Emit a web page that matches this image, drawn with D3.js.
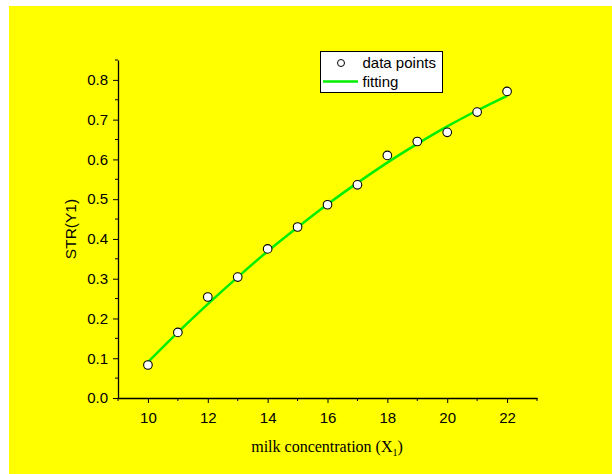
<!DOCTYPE html>
<html>
<head>
<meta charset="utf-8">
<script src="https://cdn.jsdelivr.net/npm/d3@7"></script>
<style>
  html, body { margin: 0; padding: 0; background: #ffffff; }
  svg { display: block; }
</style>
</head>
<body>
<svg id="chart" width="612" height="474"></svg>
<script>
// Measured data points (STR vs. milk concentration)
const xValues = [10, 11, 12, 13, 14, 15, 16, 17, 18, 19, 20, 21, 22];
const strValues = [0.083, 0.165, 0.254, 0.304, 0.375, 0.430, 0.486, 0.536, 0.610, 0.645, 0.668, 0.719, 0.771];
// Fitted curve evaluated at each concentration
const fitValues = [0.090, 0.165, 0.236, 0.304, 0.369, 0.429, 0.487, 0.541, 0.592, 0.639, 0.683, 0.723, 0.760];

const xTicks = [10, 12, 14, 16, 18, 20, 22];
const yTicks = [0.0, 0.1, 0.2, 0.3, 0.4, 0.5, 0.6, 0.7, 0.8];
const legendLabels = ["data points", "fitting"];

const svg = d3.select("#chart");

// page background
svg.append("rect")
  .attr("x", 9).attr("y", 6)
  .attr("width", 603).attr("height", 468)
  .attr("fill", "#ffff00");

const x = d3.scaleLinear().domain([9, 23]).range([118, 537]);
const y = d3.scaleLinear().domain([0, 0.85]).range([398, 60]);

const sans = "'Liberation Sans', Arial, sans-serif";
const serif = "'Liberation Serif', 'Times New Roman', serif";

// minor ticks
const xMinor = d3.range(9, 23.01, 1).filter(v => !xTicks.includes(v));
const yMinor = d3.range(0.05, 0.851, 0.1);

svg.append("g").selectAll("line").data(xMinor).join("line")
  .attr("x1", d => x(d)).attr("x2", d => x(d))
  .attr("y1", 398).attr("y2", 401)
  .attr("stroke", "#000").attr("stroke-width", 1);
svg.append("g").selectAll("line").data(yMinor).join("line")
  .attr("x1", 115).attr("x2", 118)
  .attr("y1", d => y(d)).attr("y2", d => y(d))
  .attr("stroke", "#000").attr("stroke-width", 1);

// x axis
const gx = svg.append("g").attr("transform", "translate(0,398)")
  .call(d3.axisBottom(x).tickValues(xTicks).tickSize(5).tickPadding(9).tickSizeOuter(0).tickFormat(d3.format("d")));
gx.select(".domain").attr("stroke", "#000").attr("stroke-width", 1.3);
gx.selectAll(".tick line").attr("stroke", "#000");
gx.selectAll("text").attr("font-family", sans).attr("font-size", 15).attr("fill", "#000");

// y axis
const gy = svg.append("g").attr("transform", "translate(118,0)")
  .call(d3.axisLeft(y).tickValues(yTicks).tickSize(5).tickPadding(5).tickSizeOuter(0).tickFormat(d3.format(".1f")));
gy.select(".domain").attr("stroke", "#000").attr("stroke-width", 1.3);
gy.selectAll(".tick line").attr("stroke", "#000");
gy.selectAll("text").attr("font-family", sans).attr("font-size", 15).attr("fill", "#000");

// axis titles
const xt = svg.append("text")
  .attr("x", 327).attr("y", 452)
  .attr("text-anchor", "middle")
  .attr("font-family", serif).attr("font-size", 16).attr("fill", "#000");
xt.append("tspan").text("milk concentration (X");
xt.append("tspan").attr("font-size", 10).attr("dy", 4).text("1");
xt.append("tspan").attr("dy", -4).text(")");

svg.append("text")
  .attr("transform", "translate(76,229) rotate(-90)")
  .attr("text-anchor", "middle")
  .attr("font-family", sans).attr("font-size", 15.5).attr("fill", "#000")
  .text("STR(Y1)");

// fitted curve
const fitData = xValues.map((v, i) => [v, fitValues[i]]);
svg.append("path")
  .datum(fitData)
  .attr("fill", "none")
  .attr("stroke", "#00ee00")
  .attr("stroke-width", 2.5)
  .attr("d", d3.line().x(d => x(d[0])).y(d => y(d[1])).curve(d3.curveMonotoneX));

// data points
svg.append("g").selectAll("circle").data(xValues.map((v, i) => [v, strValues[i]])).join("circle")
  .attr("cx", d => x(d[0])).attr("cy", d => y(d[1]))
  .attr("r", 4.3)
  .attr("fill", "#fff").attr("stroke", "#000").attr("stroke-width", 1.1);

// legend
const lg = svg.append("g");
lg.append("rect")
  .attr("x", 320.5).attr("y", 51.5).attr("width", 122).attr("height", 41)
  .attr("fill", "#fff").attr("stroke", "#000").attr("stroke-width", 1);
lg.append("circle").attr("cx", 341).attr("cy", 63).attr("r", 3.5)
  .attr("fill", "#fff").attr("stroke", "#000").attr("stroke-width", 1);
lg.append("line").attr("x1", 323).attr("x2", 358).attr("y1", 81.5).attr("y2", 81.5)
  .attr("stroke", "#00ee00").attr("stroke-width", 2.5);
lg.selectAll("text.lbl").data(legendLabels).join("text")
  .attr("class", "lbl")
  .attr("x", 362.5).attr("y", (d, i) => 68 + i * 19)
  .attr("font-family", sans).attr("font-size", 15).attr("fill", "#000")
  .text(d => d);
</script>
</body>
</html>
